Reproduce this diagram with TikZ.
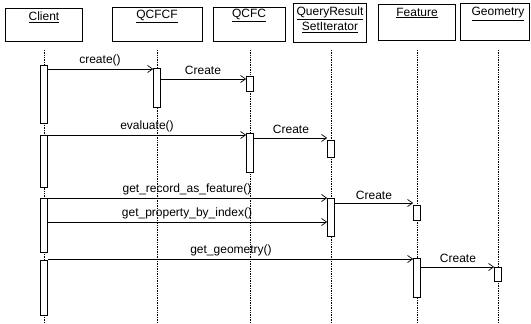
\documentclass[tikz,border=0pt]{standalone}
\usepackage{fontspec}
\setmainfont{Liberation Sans}
\usetikzlibrary{arrows.meta}
\begin{document}
\begin{tikzpicture}[x=1pt,y=-1pt,
  font=\fontsize{12}{13}\selectfont,
  objbox/.style={draw, line width=0.8pt, anchor=north west, inner sep=0pt},
  objtext/.style={anchor=center, inner sep=0pt, align=center},
  life/.style={densely dotted, line width=0.7pt},
  actbar/.style={draw, fill=white, line width=0.7pt, minimum width=7pt, inner sep=0pt, anchor=north},
  msg/.style={line width=0.7pt, -{Straight Barb[length=5pt,width=7pt]}},
  msglabel/.style={inner sep=0pt, anchor=south}]
\useasboundingbox (0,0) rectangle (531,324);
% header boxes
\node[objbox, minimum width=77pt, minimum height=33pt] (client) at (5,8) {};
\node[objbox, minimum width=90pt, minimum height=34pt] (qcfcf) at (112,7) {};
\node[objbox, minimum width=72pt, minimum height=34pt] (qcfc) at (213,7) {};
\node[objbox, minimum width=73pt, minimum height=39pt] (qrs) at (293,3) {};
\node[objbox, minimum width=77pt, minimum height=36pt] (feat) at (378,4) {};
\node[objbox, minimum width=69pt, minimum height=37pt] (geom) at (460,3) {};
\node[objtext] (clientT) at (44,17) {\underline{Client}};
\node[objtext] (qcfcfT) at (157,16) {\underline{QCFCF}};
\node[objtext] (qcfcT) at (249,15) {\underline{QCFC}};
\node[objtext, font=\fontsize{12}{15}\selectfont] (qrsT) at (330,20) {\underline{QueryResult}\\\underline{SetIterator}};
\node[objtext] (featT) at (417,13) {\underline{Feature}};
\node[objtext] (geomT) at (498,14) {\underline{Geometry}};
% lifelines
\coordinate (clientB) at (44,323);
\coordinate (qcfcfB) at (157,323);
\coordinate (qcfcB) at (250,323);
\coordinate (qrsB) at (331,323);
\coordinate (featB) at (417,323);
\coordinate (geomB) at (498,323);
\draw[life] (44,50) -- (clientB);
\draw[life] (157,50) -- (qcfcfB);
\draw[life] (250,50) -- (qcfcB);
\draw[life] (331,50) -- (qrsB);
\draw[life] (417,50) -- (featB);
\draw[life] (498,50) -- (geomB);
% activation bars
\node[actbar, minimum height=58pt] (c1) at (44,65) {};
\node[actbar, minimum height=52pt] (c2) at (44,135) {};
\node[actbar, minimum height=54pt] (c3) at (44,198) {};
\node[actbar, minimum height=55pt] (c4) at (44,260) {};
\node[actbar, minimum height=39pt] (f1) at (157,68) {};
\node[actbar, minimum height=15pt] (q1) at (250,76) {};
\node[actbar, minimum height=39pt] (q2) at (250,133) {};
\node[actbar, minimum height=17pt] (r1) at (331,140) {};
\node[actbar, minimum height=38pt] (r2) at (331,198) {};
\node[actbar, minimum height=15pt] (e1) at (417,205) {};
\node[actbar, minimum height=39pt] (e2) at (417,258) {};
\node[actbar, minimum height=14pt] (g1) at (498,267) {};
% message y levels
\coordinate (m1) at (0,69);
\coordinate (m2) at (0,79);
\coordinate (m3) at (0,135);
\coordinate (m4) at (0,138);
\coordinate (m5) at (0,198);
\coordinate (m6) at (0,203);
\coordinate (m7) at (0,222);
\coordinate (m8) at (0,259);
\coordinate (m9) at (0,267);
% messages
\draw[msg] (c1.east |- m1) -- (f1.west |- m1);
\draw[msg] (f1.east |- m2) -- (q1.west |- m2);
\draw[msg] (c2.east |- m3) -- (q2.west |- m3);
\draw[msg] (q2.east |- m4) -- (r1.west |- m4);
\draw[msg] (c3.east |- m5) -- (r2.west |- m5);
\draw[msg] (r2.east |- m6) -- (e1.west |- m6);
\draw[msg] (c3.east |- m7) -- (r2.west |- m7);
\draw[msg] (c4.east |- m8) -- (e2.west |- m8);
\draw[msg] (e2.east |- m9) -- (g1.west |- m9);
% labels
\node[msglabel] (l1) at (100,66) {create()};
\node[msglabel] (l2) at (203,75) {Create};
\node[msglabel] (l3) at (147,132) {evaluate()};
\node[msglabel] (l4) at (291,134) {Create};
\node[msglabel] (l5) at (187,195) {get\_record\_as\_feature()};
\node[msglabel] (l6) at (374,200) {Create};
\node[msglabel] (l7) at (187,219) {get\_property\_by\_index()};
\node[msglabel] (l8) at (231,256) {get\_geometry()};
\node[msglabel] (l9) at (458,263) {Create};
\end{tikzpicture}
\end{document}
